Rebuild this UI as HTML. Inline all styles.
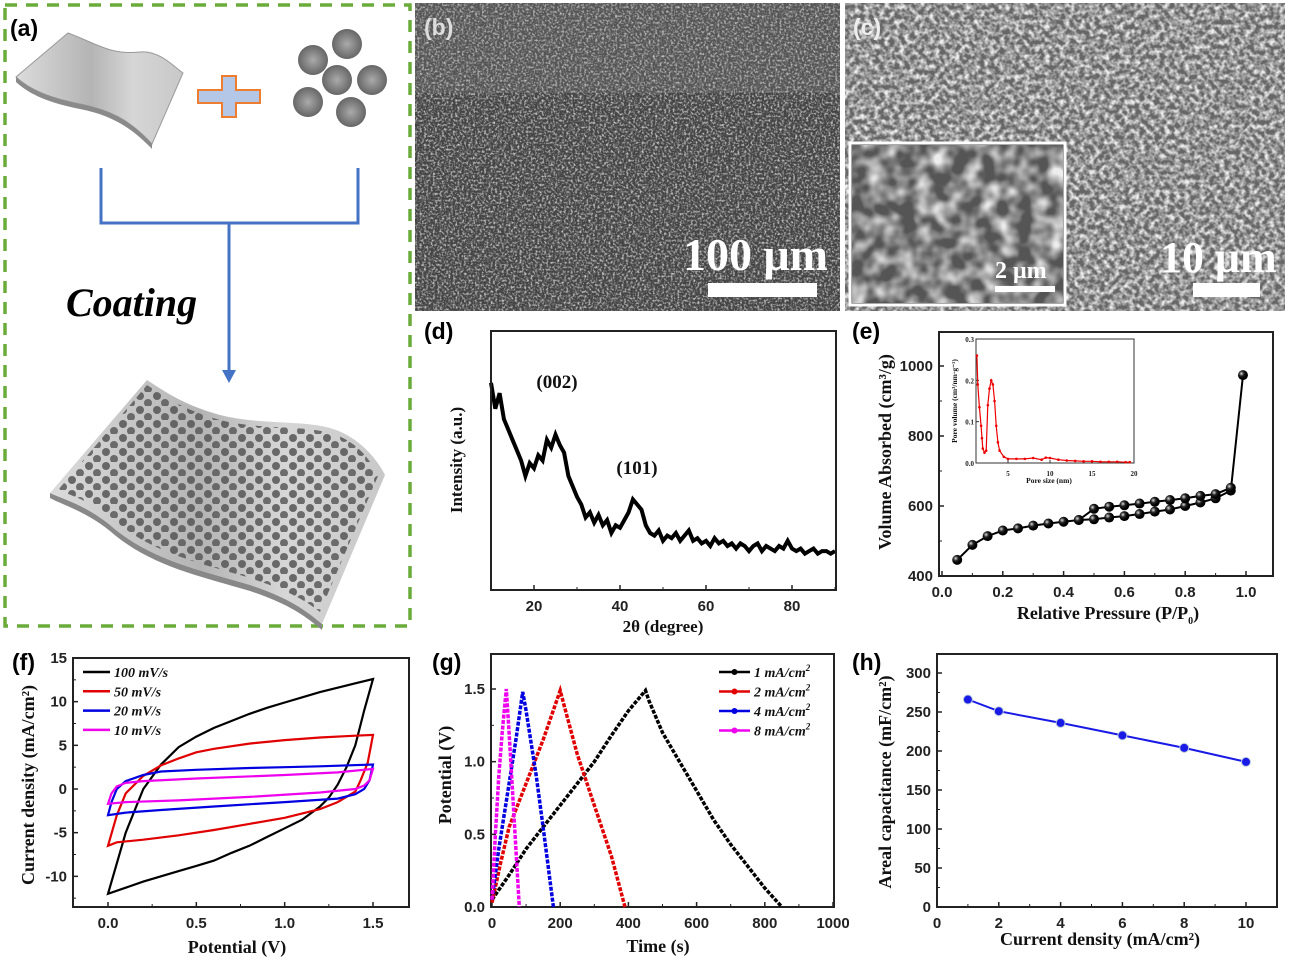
<!DOCTYPE html>
<html><head><meta charset="utf-8"><style>
html,body{margin:0;padding:0;background:#fff}
svg{display:block}
.tk{font:bold 15px "Liberation Sans",sans-serif;fill:#222}
.at{font:bold 17px "Liberation Serif",serif;fill:#111}
.pl{font:bold 23px "Liberation Sans",sans-serif;fill:#000}
.lg{font:italic bold 14px "Liberation Serif",serif;fill:#111}
</style></head><body>
<svg id="fig" width="1289" height="961" viewBox="0 0 1289 961" xmlns="http://www.w3.org/2000/svg">
<defs>
<filter id="semB" x="0" y="0" width="100%" height="100%"><feTurbulence type="fractalNoise" baseFrequency="0.45" numOctaves="3" seed="3"/><feColorMatrix type="matrix" values="0 0 0 0 0.62  0 0 0 0 0.62  0 0 0 0 0.62  2.6 0 0 0 -1.15"/></filter>
<filter id="semC" x="0" y="0" width="100%" height="100%"><feTurbulence type="fractalNoise" baseFrequency="0.2" numOctaves="2" seed="7"/><feColorMatrix type="matrix" values="0 0 0 0 0.85  0 0 0 0 0.85  0 0 0 0 0.85  2.4 0 0 0 -0.85"/></filter>
<filter id="semI" x="0" y="0" width="100%" height="100%"><feTurbulence type="fractalNoise" baseFrequency="0.06" numOctaves="2" seed="11"/><feColorMatrix type="matrix" values="0 0 0 0 0.85  0 0 0 0 0.85  0 0 0 0 0.85  2 0 0 0 -0.7"/></filter>
<linearGradient id="sheetG" x1="0" x2="1" y1="0" y2="0"><stop offset="0" stop-color="#dcdcdc"/><stop offset="0.45" stop-color="#b4b4b4"/><stop offset="0.7" stop-color="#d6d6d6"/><stop offset="1" stop-color="#c8c8c8"/></linearGradient>
<pattern id="dots" width="17" height="14" patternUnits="userSpaceOnUse"><circle cx="4" cy="4" r="4" fill="#555"/><circle cx="12" cy="11" r="4" fill="#5a5a5a"/></pattern>
<radialGradient id="poly"><stop offset="0" stop-color="#aaa"/><stop offset="1" stop-color="#666"/></radialGradient>
<radialGradient id="ball" cx="0.35" cy="0.35"><stop offset="0" stop-color="#ddd"/><stop offset="0.5" stop-color="#222"/><stop offset="1" stop-color="#000"/></radialGradient>
</defs>

<g>
<rect x="5" y="5" width="405" height="621" fill="none" stroke="#6aab3a" stroke-width="3.5" stroke-dasharray="12 9"/>
<text x="10" y="36" class="pl">(a)</text>
<path d="M16,77 L68,33 C100,45 110,55 140,52 C160,50 175,68 183,73 L152,144 C130,120 110,110 80,104 C50,98 30,90 16,77 Z" fill="url(#sheetG)" stroke="#999" stroke-width="1"/>
<path d="M16,77 C30,90 50,98 80,104 C110,110 130,120 152,144 L152,149 C130,126 110,115 80,109 C50,103 30,95 16,82 Z" fill="#8a8a8a"/>
<path d="M222,76 h14 v14 h24 v13 h-24 v14 h-14 v-14 h-24 v-13 h24 Z" fill="#b4c7e7" stroke="#ed7d31" stroke-width="2"/>
<g>
<circle cx="347" cy="44" r="15" fill="url(#poly)"/><circle cx="313" cy="60" r="15" fill="url(#poly)"/><circle cx="337" cy="80" r="15" fill="url(#poly)"/><circle cx="372" cy="80" r="15" fill="url(#poly)"/><circle cx="308" cy="102" r="15" fill="url(#poly)"/><circle cx="351" cy="112" r="15" fill="url(#poly)"/>
</g>
<path d="M101,168 V223 H358 V168 M229,223 V372" fill="none" stroke="#4472c4" stroke-width="3"/>
<path d="M222,370 L236,370 L229,383 Z" fill="#4472c4"/>
<text x="66" y="316" style="font:italic bold 40px 'Liberation Serif',serif" fill="#000">Coating</text>
<path d="M147,380 C170,395 185,405 220,415 C260,425 300,420 330,428 C355,435 375,455 385,475 L322,624 C300,605 280,595 250,585 C200,570 150,560 110,525 C85,505 65,500 50,493 Z" fill="url(#sheetG)"/>
<path d="M50,493 C65,500 85,505 110,525 C150,560 200,570 250,585 C280,595 300,605 322,624 L322,630 C300,611 280,601 250,591 C200,576 150,566 110,531 C85,511 65,506 50,498 Z" fill="#888"/>
<path d="M147,385 C170,400 185,410 220,420 C260,430 300,425 330,433 C355,440 370,458 378,476 L320,612 C300,596 280,588 250,578 C200,563 150,553 112,518 C88,500 70,495 58,490 Z" fill="url(#dots)" opacity="0.85"/>
</g>

<g>
<rect x="415" y="3" width="425" height="308" fill="#444"/>
<rect x="415" y="3" width="425" height="308" filter="url(#semB)"/>
<rect x="415" y="3" width="425" height="90" fill="#999" opacity="0.2"/>
<text x="424" y="35" class="pl" style="fill:#ddd">(b)</text>
<text x="683" y="270" style="font:bold 46px 'Liberation Serif',serif;fill:#fff">100 μm</text>
<rect x="708" y="283" width="109" height="14" fill="#fff"/>
</g>

<g>
<rect x="845" y="3" width="440" height="308" fill="#666"/>
<rect x="845" y="3" width="440" height="308" filter="url(#semC)"/>
<text x="853" y="35" class="pl" style="fill:#eee">(c)</text>
<rect x="850" y="143" width="215" height="162" fill="#555" stroke="#fff" stroke-width="3"/>
<rect x="852" y="145" width="211" height="158" filter="url(#semI)"/>
<text x="995" y="278" style="font:bold 24px 'Liberation Serif',serif;fill:#fff">2 μm</text>
<rect x="995" y="286" width="60" height="6" fill="#fff"/>
<text x="1160" y="272" style="font:bold 44px 'Liberation Serif',serif;fill:#fff">10 μm</text>
<rect x="1193" y="283" width="67" height="14" fill="#fff"/>
</g>

<g id="charts"></g>
</svg>
<script>
const xrdAngle = [];
for (let a = 10; a <= 90; a++) xrdAngle.push(a);
const xrdIntensity = [80,70,76,66,62,58,54,50,44,49,47,52,50,58,55,60,56,53,44,40,36,33,28,30,26,29,25,27,22,25,24,27,30,35,33,31,25,22,21,23,19,21,20,22,19,21,23,19,20,18,19,17,20,18,19,17,18,16,18,17,15,17,18,15,17,16,15,17,16,19,16,15,16,14,15,16,14,15,15,14,15];
const xrdTicks = [20,40,60,80];
const betP = [0.05,0.1,0.15,0.2,0.25,0.3,0.35,0.4,0.45,0.5,0.55,0.6,0.65,0.7,0.75,0.8,0.85,0.9,0.95,0.99];
const betAds = [446,489,514,530,536,544,550,555,560,562,567,571,577,584,590,600,610,622,644,974];
const betDesP = [0.95,0.9,0.85,0.8,0.75,0.7,0.65,0.6,0.55,0.5,0.45];
const betDes = [652,634,629,622,617,612,607,602,598,592,560];
const betXTicks = [0,0.2,0.4,0.6,0.8,1.0];
const betYTicks = [400,600,800,1000];
const poreSize = [1.3,1.4,1.6,1.8,1.9,2.0,2.2,2.4,2.6,2.8,3.0,3.2,3.4,3.6,3.8,4.0,4.5,5,6,7,8,9,9.5,10,11,12,13,14,15,16,17,18,19,19.5];
const poreVol = [0.26,0.19,0.135,0.09,0.06,0.035,0.025,0.03,0.14,0.18,0.2,0.19,0.15,0.09,0.05,0.03,0.015,0.01,0.01,0.01,0.012,0.008,0.013,0.012,0.008,0.006,0.005,0.004,0.004,0.003,0.003,0.003,0.002,0.002];
const cvLabels = ['100 mV/s','50 mV/s','20 mV/s','10 mV/s'];
const cvColors = ['#000','#e00000','#0000e0','#ee00ee'];
const cvV = [
 [0,0.1,0.2,0.3,0.4,0.5,0.6,0.7,0.8,0.9,1.0,1.1,1.2,1.3,1.4,1.5,1.45,1.4,1.35,1.3,1.25,1.2,1.1,1.0,0.9,0.8,0.7,0.6,0.5,0.4,0.3,0.2,0.1,0],
 [0,0.05,0.1,0.2,0.3,0.4,0.5,0.6,0.8,1.0,1.2,1.4,1.5,1.47,1.43,1.4,1.3,1.2,1.0,0.8,0.6,0.4,0.2,0.05,0],
 [0,0.02,0.05,0.1,0.2,0.3,0.5,0.8,1.0,1.2,1.5,1.48,1.45,1.4,1.3,1.0,0.6,0.3,0.1,0],
 [0,0.02,0.05,0.1,0.2,0.5,1.0,1.3,1.5,1.48,1.45,1.4,1.2,0.8,0.4,0.1,0]
];
const cvI = [
 [-12,-5,0,2.8,4.8,6,7,7.8,8.6,9.3,9.9,10.5,11.1,11.6,12.1,12.6,9,5,2.5,0.5,-1,-2,-3.5,-4.5,-5.5,-6.5,-7.3,-8.2,-8.8,-9.4,-10,-10.6,-11.3,-12],
 [-6.5,-3,-0.5,1.5,2.7,3.5,4.2,4.6,5.2,5.6,5.9,6.1,6.2,3,1,-0.3,-1.5,-2.3,-3.3,-4.0,-4.7,-5.3,-5.8,-6.1,-6.5],
 [-3,-1.5,0,0.9,1.6,2.0,2.2,2.4,2.5,2.6,2.8,1,0,-0.6,-1.1,-1.5,-2.0,-2.4,-2.7,-3.0],
 [-1.7,-0.5,0.3,0.7,0.9,1.2,1.6,1.9,2.3,1,0.4,0,-0.4,-0.9,-1.3,-1.5,-1.7]
];
const cvXTicks = [0.0,0.5,1.0,1.5];
const cvYTicks = [-10,-5,0,5,10,15];
const gcdLabels = ['1 mA/cm','2 mA/cm','4 mA/cm','8 mA/cm'];
const gcdColors = ['#000','#e00000','#0000e0','#ee00ee'];
const gcdT = [
 [0,50,100,150,200,250,300,350,400,450,460,500,550,600,650,700,750,800,850],
 [0,25,50,100,150,200,210,250,300,350,390],
 [0,20,50,70,90,100,130,150,180],
 [0,10,20,30,42,50,60,70,80]
];
const gcdV = [
 [0.05,0.22,0.4,0.55,0.7,0.85,1.0,1.18,1.35,1.49,1.42,1.2,1.0,0.8,0.6,0.43,0.28,0.13,0.0],
 [0.03,0.3,0.55,0.85,1.15,1.49,1.4,1.05,0.7,0.35,0.0],
 [0.05,0.4,0.85,1.15,1.48,1.35,0.9,0.55,0.0],
 [0.05,0.5,0.9,1.2,1.5,1.2,0.8,0.4,0.0]
];
const gcdXTicks = [0,200,400,600,800,1000];
const gcdYTicks = [0.0,0.5,1.0,1.5];
const capJ = [1,2,4,6,8,10];
const capC = [266,251,236,220,204,186];
const capXTicks = [0,2,4,6,8,10];
const capYTicks = [0,50,100,150,200,250,300];

const NS='http://www.w3.org/2000/svg';
const root=document.getElementById('charts');
function el(tag,attrs,parent){const e=document.createElementNS(NS,tag);for(const k in attrs)e.setAttribute(k,attrs[k]);(parent||root).appendChild(e);return e;}
function lin(d0,d1,r0,r1){return v=>r0+(v-d0)*(r1-r0)/(d1-d0);}
function txt(x,y,s,cls,anchor,parent,rot){const t=el('text',{x:x,y:y,class:cls,'text-anchor':anchor||'middle'},parent);if(rot)t.setAttribute('transform','rotate(-90 '+x+' '+y+')');t.textContent=s;return t;}
function sub(t,s,shift,size){const ts=el('tspan',{dy:shift,style:'font-size:'+size+'px'},t);ts.textContent=s;return ts;}
function more(t,s,shift){const ts=el('tspan',{dy:shift},t);ts.textContent=s;return ts;}
function frame(g,x0,y0,x1,y1){const r=el('rect',{x:x0,y:y0,width:x1-x0,height:y1-y0,fill:'none',stroke:'#222','stroke-width':2},g);

}
function xTicks(g,ticks,sx,yb,fmt,minor){ticks.forEach(t=>{el('line',{x1:sx(t),x2:sx(t),y1:yb,y2:yb-5,stroke:'#222','stroke-width':1.5},g);const l=txt(sx(t),yb+21,fmt(t),'tk','middle',g);

});
if(minor)minor.forEach(t=>el('line',{x1:sx(t),x2:sx(t),y1:yb,y2:yb-3,stroke:'#222','stroke-width':1},g));}
function yTicks(g,ticks,sy,xl,fmt,minor){ticks.forEach(t=>{el('line',{x1:xl,x2:xl+5,y1:sy(t),y2:sy(t),stroke:'#222','stroke-width':1.5},g);const l=txt(xl-6,sy(t)+5,fmt(t),'tk','end',g);

});
if(minor)minor.forEach(t=>el('line',{x1:xl,x2:xl+3,y1:sy(t),y2:sy(t),stroke:'#222','stroke-width':1},g));}
function pathD(xs,ys,sx,sy){return xs.map((x,i)=>(i?'L':'M')+sx(x).toFixed(1)+','+sy(ys[i]).toFixed(1)).join(' ');}
function panel(name,lbl,lx,ly){const g=el('g',{});


const t=txt(lx,ly,lbl,'pl','start',g);


return g;}

// (d)
{const g=panel('panel-d-xrd','(d)',424,339);
const sx=lin(10,90,491,835),sy=lin(0,100,590,331);
xTicks(g,xrdTicks,sx,590,v=>v,[30,50,70,90]);
const p=el('path',{d:pathD(xrdAngle,xrdIntensity,sx,sy),fill:'none',stroke:'#000','stroke-width':4,'stroke-linejoin':'miter'},g);


frame(g,491,331,836,590);
txt(557,388,'(002)','at','middle',g).setAttribute('style','font-size:19px');
txt(637,474,'(101)','at','middle',g).setAttribute('style','font-size:19px');
txt(663,632,'2θ (degree)','at','middle',g);
txt(462,460,'Intensity (a.u.)','at','middle',g,true);}

// (e)
{const g=panel('panel-e-bet','(e)',852,339);
const sx=lin(0,1,942,1246),sy=lin(400,1100,576,331);
xTicks(g,betXTicks,sx,576,v=>v.toFixed(1),[0.1,0.3,0.5,0.7,0.9]);
yTicks(g,betYTicks,sy,939,v=>v,[500,700,900]);
frame(g,939,332,1273,576);
const pa=el('path',{d:pathD(betP,betAds,sx,sy),fill:'none',stroke:'#000','stroke-width':2},g);


const pd=el('path',{d:pathD(betDesP,betDes,sx,sy),fill:'none',stroke:'#000','stroke-width':2},g);


betP.forEach((p,i)=>{const c=el('circle',{cx:sx(p),cy:sy(betAds[i]),r:5,fill:'url(#ball)'},g);

});
betDesP.forEach((p,i)=>{const c=el('circle',{cx:sx(p),cy:sy(betDes[i]),r:5,fill:'url(#ball)'},g);

});
const xt=txt(1108,619,'Relative Pressure (P/P','at','middle',g);xt.setAttribute('style','font-size:18px');
sub(xt,'0',5,10);more(xt,')',-5);
txt(891,452,'Volume Absorbed (cm³/g)','at','middle',g,true).setAttribute('style','font-size:18px');
const ix=lin(0,20,966,1134),iy=lin(0,0.3,463,339);
const ig=el('g',{},g);


el('rect',{x:976,y:339,width:158,height:124,fill:'#fff',stroke:'#333','stroke-width':1},ig);
[5,10,15,20].forEach(t=>{el('line',{x1:ix(t),x2:ix(t),y1:463,y2:460,stroke:'#333'},ig);const l=txt(ix(t),476,t,'tk','middle',ig);l.setAttribute('style','font:bold 7px "Liberation Serif",serif');});
[0,0.1,0.2,0.3].forEach(t=>{el('line',{x1:976,x2:979,y1:iy(t),y2:iy(t),stroke:'#333'},ig);const l=txt(974,iy(t)+3,t.toFixed(1),'tk','end',ig);l.setAttribute('style','font:bold 7px "Liberation Serif",serif');});
const rp=el('path',{d:pathD(poreSize,poreVol,ix,iy),fill:'none',stroke:'#e00','stroke-width':1.2},ig);


poreSize.forEach((p,i)=>el('circle',{cx:ix(p),cy:iy(poreVol[i]),r:1.3,fill:'#e00'},ig));
txt(1049,483,'Pore size (nm)','at','middle',ig).setAttribute('style','font-size:7.5px');
txt(957,401,'Pore volume (cm³/nm·g⁻¹)','at','middle',ig,true).setAttribute('style','font-size:7.5px');}

// (f)
{const g=panel('panel-f-cv','(f)',12,670);
const sx=lin(0,1.5,108,373),sy=lin(0,15,789,658);
xTicks(g,cvXTicks,sx,907,v=>v.toFixed(1),[0.25,0.75,1.25]);
yTicks(g,cvYTicks,sy,73,v=>v,[-12.5,-7.5,-2.5,2.5,7.5,12.5]);
frame(g,73,658,409,907);
cvV.forEach((vs,k)=>{const p=el('path',{d:pathD(vs,cvI[k],sx,sy)+' Z',fill:'none',stroke:cvColors[k],'stroke-width':2.2},g);


const ly=672+k*19.3;el('line',{x1:83,x2:110,y1:ly,y2:ly,stroke:cvColors[k],'stroke-width':2.5},g);
const t=txt(114,ly+5,cvLabels[k],'lg','start',g);

});
txt(237,953,'Potential (V)','at','middle',g).setAttribute('style','font-size:18px');
txt(34,785,'Current density (mA/cm²)','at','middle',g,true).setAttribute('style','font-size:18px');}

// (g)
{const g=panel('panel-g-gcd','(g)',432,670);
const sx=lin(0,1000,492,833),sy=lin(0,1.5,907,689);
xTicks(g,gcdXTicks,sx,907,v=>v,[100,300,500,700,900]);
yTicks(g,gcdYTicks,sy,491,v=>v.toFixed(1),[0.25,0.75,1.25]);
frame(g,491,654,834,907);
gcdT.forEach((ts,k)=>{const p=el('path',{d:pathD(ts,gcdV[k],sx,sy),fill:'none',stroke:gcdColors[k],'stroke-width':3.5,'stroke-dasharray':'4 1.5'},g);


const ly=672+k*19.5;el('line',{x1:719,x2:750,y1:ly,y2:ly,stroke:gcdColors[k],'stroke-width':2.5},g);el('circle',{cx:734.5,cy:ly,r:3,fill:gcdColors[k]},g);
const t=txt(754,ly+5,gcdLabels[k],'lg','start',g);


sub(t,'2',-6,9);});
txt(658,952,'Time (s)','at','middle',g).setAttribute('style','font-size:18px');
txt(451,775,'Potential (V)','at','middle',g,true).setAttribute('style','font-size:18px');}

// (h)
{const g=panel('panel-h-capacitance','(h)',852,670);
const sx=lin(0,10,937,1246),sy=lin(0,300,907,673);
xTicks(g,capXTicks,sx,907,v=>v,[1,3,5,7,9,11]);
yTicks(g,capYTicks,sy,937,v=>v,[25,75,125,175,225,275]);
frame(g,937,654,1277,907);
const p=el('path',{d:pathD(capJ,capC,sx,sy),fill:'none',stroke:'#1a1ae6','stroke-width':2},g);


capJ.forEach((j,i)=>{const c=el('circle',{cx:sx(j),cy:sy(capC[i]),r:4.5,fill:'#1a1ae6',stroke:'#bcd','stroke-width':1},g);

});
txt(1100,945,'Current density (mA/cm²)','at','middle',g).setAttribute('style','font-size:18px');
txt(891,782,'Areal capacitance (mF/cm²)','at','middle',g,true).setAttribute('style','font-size:18px');}
</script>
</body></html>
